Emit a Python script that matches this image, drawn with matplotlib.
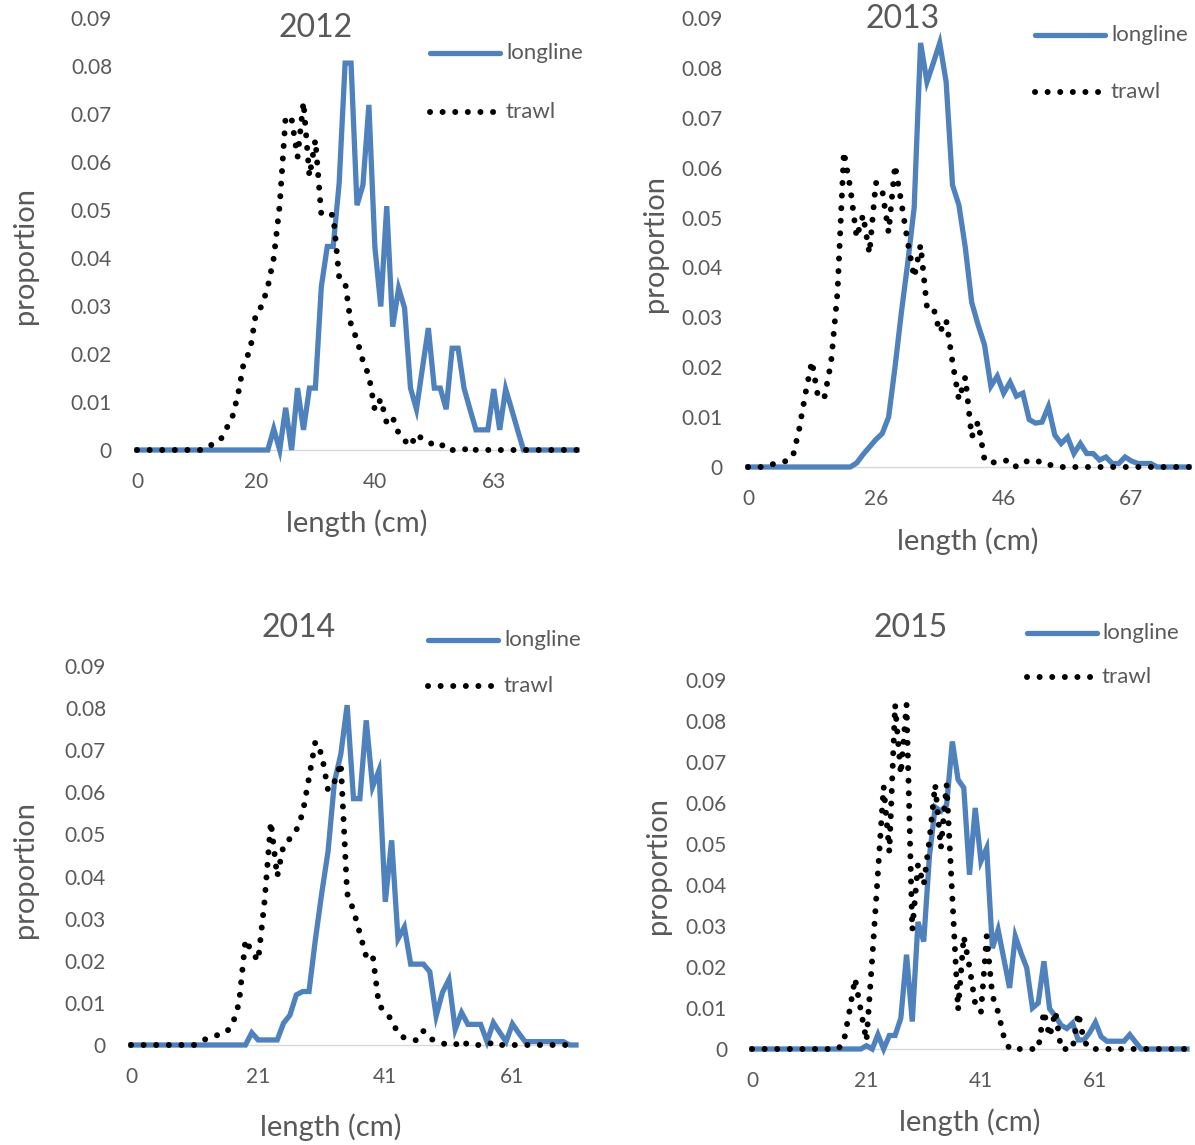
import matplotlib
matplotlib.use("Agg")
import matplotlib.pyplot as plt
from matplotlib.lines import Line2D

plt.rcParams['font.family'] = ['Lato', 'DejaVu Sans']

# length classes (cm) used as the category axis of each year
cats_2012 = list(range(0, 58)) + [59, 62, 63] + list(range(64, 78))
cats_2013 = [0] + list(range(7, 64)) + list(range(65, 77))
cats_2014 = [0] + list(range(2, 72))
cats_2015 = [0] + list(range(2, 78))

# proportion at length
longline_2012 = [0] * 23 + [
    0.0044, 0, 0.0088, 0, 0.0129, 0.0042, 0.0129, 0.0129, 0.034, 0.0424,
    0.0424, 0.0556, 0.0806, 0.0806, 0.051, 0.0552, 0.0719, 0.0424, 0.0299, 0.0508,
    0.0257, 0.0337, 0.0296, 0.0129, 0.0085, 0.017, 0.0254, 0.0129, 0.0129, 0.0085,
    0.0212, 0.0212, 0.0129, 0.0085, 0.0042, 0.0042, 0.0042, 0.0127, 0.0042, 0.0127,
    0.0085, 0.0042] + [0] * 10
trawl_2012 = [0] * 12 + [
    0.0008, 0.0013, 0.002, 0.0044, 0.0067, 0.0116, 0.0185, 0.0205, 0.0285, 0.030,
    0.034, 0.040, 0.051, 0.0695, 0.069, 0.061, 0.0725, 0.057, 0.0646, 0.049,
    0.049, 0.049, 0.036, 0.035, 0.026, 0.023, 0.0185, 0.0155, 0.0083, 0.0106,
    0.0056, 0.0068, 0.0035, 0.002, 0.0008, 0.0033, 0.0023, 0.0015, 0.0012, 0.0015,
    0, 0, 0, 0, 0.0008] + [0] * 18

longline_2013 = [0] * 17 + [
    0.0008, 0.0025, 0.004, 0.0055, 0.0067, 0.0100, 0.020, 0.031, 0.041, 0.052,
    0.085, 0.0772, 0.081, 0.085, 0.0772, 0.0565, 0.0525, 0.044, 0.033, 0.0285,
    0.0245, 0.0162, 0.0182, 0.0148, 0.017, 0.0142, 0.0148, 0.0095, 0.0088, 0.009,
    0.0121, 0.0064, 0.0047, 0.006, 0.0027, 0.0047, 0.0027, 0.0027, 0.0014, 0.002,
    0.0007, 0.0007, 0.002, 0.0012, 0.0007, 0.0007, 0.0007] + [0] * 6
trawl_2013 = [
    0, 0, 0, 0.0003, 0.0006, 0.0009, 0.0012, 0.002, 0.0075, 0.0148,
    0.0212, 0.0137, 0.0142, 0.021, 0.035, 0.0632, 0.056, 0.046, 0.0505, 0.0428,
    0.057, 0.0555, 0.047, 0.0605, 0.053, 0.045, 0.038, 0.0445, 0.032, 0.032,
    0.027, 0.0295, 0.021, 0.0135, 0.018, 0.006, 0.009, 0.0015, 0.0007, 0.0012,
    0.0012, 0.0014, 0, 0.0007, 0.0014, 0.0011, 0.0011, 0.0004, 0.0004] + [0] * 21

longline_2014 = [0] * 19 + [
    0.0029, 0.0012, 0.0012, 0.0012, 0.0012, 0.0052, 0.0071, 0.0119, 0.0127, 0.0127,
    0.025, 0.036, 0.046, 0.0625, 0.069, 0.0807, 0.0585, 0.0585, 0.0771, 0.0613,
    0.0652, 0.034, 0.0486, 0.0252, 0.028, 0.0192, 0.0192, 0.0192, 0.0174, 0.0069,
    0.0125, 0.0155, 0.0037, 0.0077, 0.0049, 0.0049, 0.0049, 0.0008, 0.0053, 0.003,
    0.0008, 0.005, 0.0028, 0.0008, 0.0008, 0.0008, 0.0008, 0.0008, 0.0008, 0.0008,
    0, 0]
trawl_2014 = [0] * 11 + [
    0.001, 0.0015, 0.002, 0.0026, 0.003, 0.005, 0.010, 0.025, 0.0222, 0.020,
    0.034, 0.053, 0.040, 0.0475, 0.049, 0.051, 0.055, 0.0635, 0.072, 0.069,
    0.0605, 0.0625, 0.067, 0.036, 0.032, 0.0265, 0.021, 0.0215, 0.0095, 0.0078,
    0.006, 0.0027, 0.0017, 0.0013, 0.0011, 0.0033, 0.0015, 0.001, 0.0004, 0,
    0, 0.0012, 0, 0, 0, 0, 0.0007] + [0] * 13

longline_2015 = [0] * 20 + [
    0.0008, 0, 0.0035, 0, 0.0033, 0.0033, 0.0075, 0.023, 0.0067, 0.031,
    0.0262, 0.047, 0.059, 0.058, 0.0595, 0.075, 0.0657, 0.0637, 0.0425, 0.0588,
    0.0458, 0.049, 0.0246, 0.0291, 0.022, 0.0149, 0.0275, 0.0234, 0.0198, 0.01,
    0.0112, 0.0214, 0.0098, 0.008, 0.0058, 0.005, 0.0063, 0.0022, 0.0022, 0.004,
    0.0065, 0.003, 0.0019, 0.0019, 0.0019, 0.0019, 0.0035, 0.0017] + [0] * 9
trawl_2015 = [0] * 16 + [
    0.0015, 0.009, 0.0172, 0.0095, 0.002, 0.022, 0.043, 0.064, 0.048, 0.084,
    0.067, 0.084, 0.029, 0.045, 0.040, 0.051, 0.0645, 0.049, 0.0645, 0.037,
    0.0095, 0.0275, 0.020, 0.011, 0.009, 0.0275, 0.013, 0.009, 0.003, 0,
    0, 0, 0, 0, 0, 0.0092, 0.003, 0.0092, 0, 0,
    0, 0.0088, 0.002] + [0] * 18

years = ["2012", "2013", "2014", "2015"]
y_ticks = [0, 0.01, 0.02, 0.03, 0.04, 0.05, 0.06, 0.07, 0.08, 0.09]
y_tick_labels = ["0", "0.01", "0.02", "0.03", "0.04", "0.05", "0.06", "0.07", "0.08", "0.09"]

W, H = 1195, 1145
BLUE = "#4F81BD"
GREY = "#595959"
LW = 3.8
DOT_LW = 4.3
DOTS = (0, (0.01, 2.1))

# pixel layout of each panel: plot box, title, axis titles, legend
layout = {
    "2012": dict(x0=137, x1=577, y0=450, y1=18, title=(316, 28), ylab=(25, 255),
                 xlab=(357, 523), leg=(430, 500, 506, 53, 112)),
    "2013": dict(x0=748, x1=1189, y0=467, y1=18, title=(903, 19), ylab=(655, 243),
                 xlab=(968, 541), leg=(1035, 1105, 1111, 35, 92)),
    "2014": dict(x0=131, x1=576, y0=1045, y1=666, title=(299, 628), ylab=(25, 870),
                 xlab=(331, 1127), leg=(428, 498, 504, 640, 686)),
    "2015": dict(x0=752, x1=1187, y0=1049, y1=680, title=(911, 628), ylab=(658, 865),
                 xlab=(970, 1122), leg=(1027, 1097, 1102, 633, 677)),
}
series = {
    "2012": (cats_2012, longline_2012, trawl_2012),
    "2013": (cats_2013, longline_2013, trawl_2013),
    "2014": (cats_2014, longline_2014, trawl_2014),
    "2015": (cats_2015, longline_2015, trawl_2015),
}

fig = plt.figure(figsize=(W / 100, H / 100), dpi=100)
# overlay in pixel coordinates for the texts and legend keys
over = fig.add_axes([0, 0, 1, 1])
over.set_xlim(0, W)
over.set_ylim(H, 0)
over.axis("off")

for year in years:
    cats, ll, tw = series[year]
    L = layout[year]
    ax = fig.add_axes([L["x0"] / W, 1 - L["y0"] / H, (L["x1"] - L["x0"]) / W, (L["y0"] - L["y1"]) / H])
    n = len(cats)
    idx = list(range(n))
    ax.plot(idx, ll, color=BLUE, lw=LW, solid_joinstyle="miter", clip_on=False, zorder=3)
    ax.plot(idx, tw, color="black", lw=DOT_LW, linestyle=DOTS, dash_capstyle="round",
            clip_on=False, zorder=4)
    ax.set_xlim(0, n - 1)
    ax.set_ylim(0, 0.09)
    for s in ["top", "right", "left"]:
        ax.spines[s].set_visible(False)
    ax.spines["bottom"].set_color("#d9d9d9")
    ax.spines["bottom"].set_linewidth(1.0)
    ax.spines["bottom"].set_zorder(1)
    ax.patch.set_alpha(0)
    ticks = [0, 20, 40, 60]
    ax.set_xticks(ticks)
    ax.set_xticklabels([str(cats[i]) for i in ticks])
    ax.set_yticks(y_ticks)
    ax.set_yticklabels(y_tick_labels)
    ax.tick_params(axis="both", length=0, labelsize=15, colors=GREY)
    ax.tick_params(axis="x", pad=16)
    ax.tick_params(axis="y", pad=18)

    over.text(L["title"][0], L["title"][1], year, fontsize=23, color=GREY,
              ha="center", va="center")
    over.text(L["ylab"][0], L["ylab"][1], "proportion", fontsize=21, color=GREY,
              ha="center", va="center", rotation=90)
    over.text(L["xlab"][0], L["xlab"][1], "length (cm)", fontsize=21, color=GREY,
              ha="center", va="center")

    lx0, lx1, tx, ya, yb = L["leg"]
    over.add_line(Line2D([lx0, lx1], [ya, ya], color=BLUE, lw=LW, solid_capstyle="round"))
    over.add_line(Line2D([lx0, lx1 - 3], [yb, yb], color="black", lw=DOT_LW, linestyle=DOTS,
                         dash_capstyle="round"))
    over.text(tx, ya, "longline", fontsize=16, color=GREY, ha="left", va="center")
    over.text(tx, yb, "trawl", fontsize=16, color=GREY, ha="left", va="center")

fig.savefig("out.png", dpi=100)
